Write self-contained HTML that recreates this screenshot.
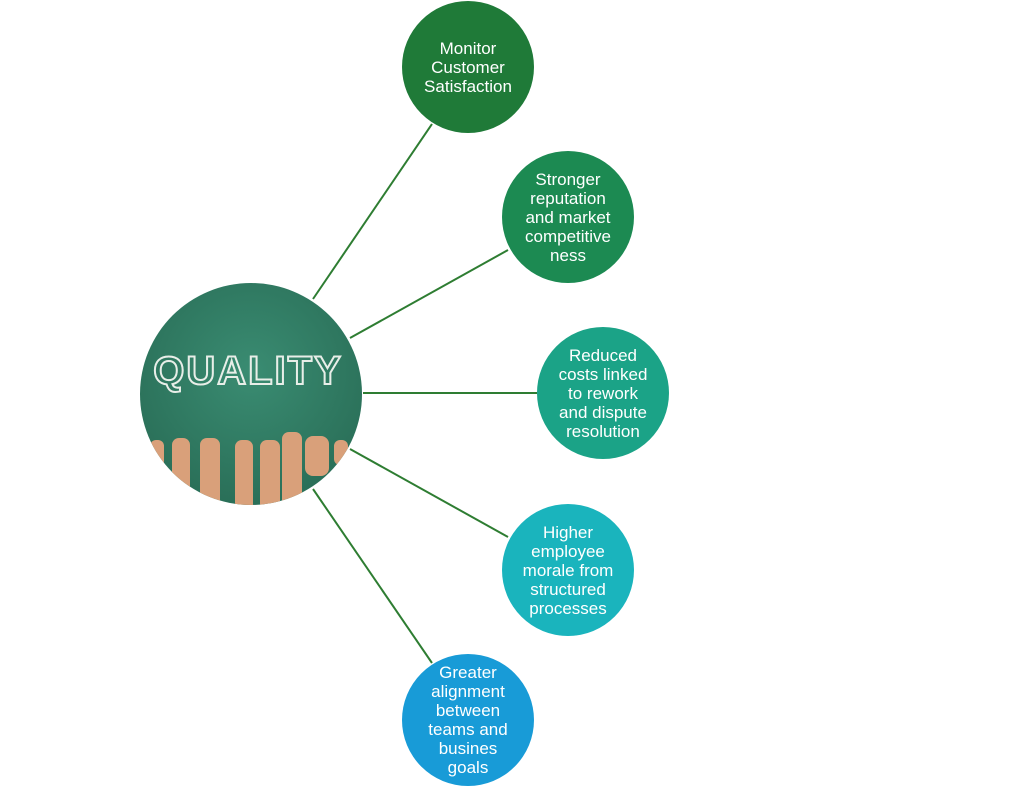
<!DOCTYPE html>
<html><head><meta charset="utf-8"><style>
body{margin:0;background:#fff;width:1024px;height:788px;overflow:hidden;font-family:"Liberation Sans",sans-serif}
.c{position:absolute;width:132px;height:132px;border-radius:50%;display:flex;align-items:center;justify-content:center;text-align:center;color:#fff;font-size:17px;line-height:19px}
</style></head><body>
<svg width="1024" height="788" style="position:absolute;left:0;top:0">
<defs><radialGradient id="g" cx="50%" cy="40%" r="60%"><stop offset="0" stop-color="#3a8c72"/><stop offset="1" stop-color="#2a6f58"/></radialGradient>
<clipPath id="cp"><circle cx="251" cy="394" r="111"/></clipPath></defs>
<g stroke="#2e7d32" stroke-width="2">
<line x1="313" y1="299" x2="432" y2="124"/>
<line x1="350" y1="338" x2="508" y2="250"/>
<line x1="363" y1="393" x2="537" y2="393"/>
<line x1="350" y1="449" x2="508" y2="537"/>
<line x1="313" y1="489" x2="432" y2="663"/>
</g>
<circle cx="251" cy="394" r="111" fill="url(#g)"/>
<text x="248" y="384" text-anchor="middle" font-family="Liberation Sans" font-weight="bold" font-size="40" fill="none" stroke="#e8eee8" stroke-width="2" letter-spacing="2">QUALITY</text>
<g fill="#d9a07a" clip-path="url(#cp)">
<rect x="150" y="440" width="14" height="30" rx="6"/>
<rect x="172" y="438" width="18" height="80" rx="7"/>
<rect x="200" y="438" width="20" height="80" rx="7"/>
<rect x="235" y="440" width="18" height="80" rx="7"/>
<rect x="260" y="440" width="20" height="80" rx="7"/>
<rect x="282" y="432" width="20" height="80" rx="7"/>
<rect x="305" y="436" width="24" height="40" rx="8"/>
<rect x="334" y="440" width="14" height="25" rx="6"/>
</g>
</svg>
<div class="c" style="left:402px;top:1px;background:#1f7a38">Monitor<br>Customer<br>Satisfaction</div>
<div class="c" style="left:502px;top:151px;background:#1c8a52">Stronger<br>reputation<br>and market<br>competitive<br>ness</div>
<div class="c" style="left:537px;top:327px;background:#1ba387">Reduced<br>costs linked<br>to rework<br>and dispute<br>resolution</div>
<div class="c" style="left:502px;top:504px;background:#1ab4bd">Higher<br>employee<br>morale from<br>structured<br>processes</div>
<div class="c" style="left:402px;top:654px;background:#189bd7">Greater<br>alignment<br>between<br>teams and<br>busines<br>goals</div>
</body></html>
